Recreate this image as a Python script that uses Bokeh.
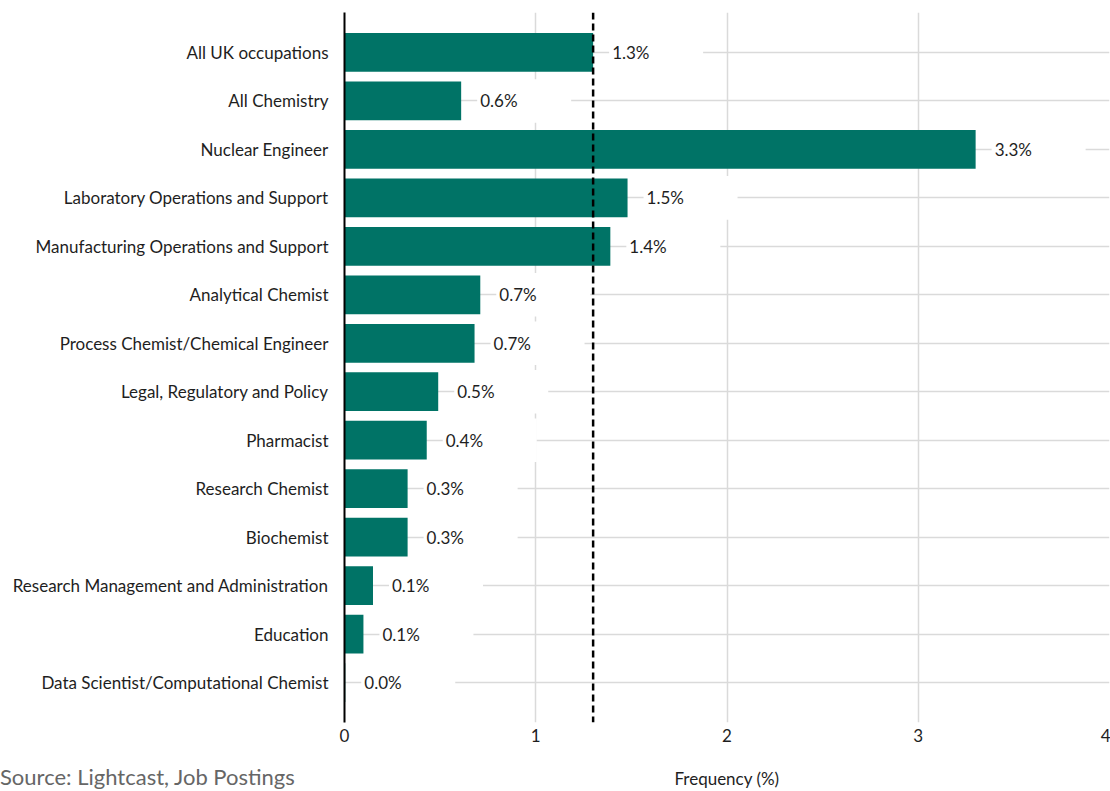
from bokeh.plotting import figure
from bokeh.layouts import column
from bokeh.models import Span, Div, FactorRange, Range1d, FixedTicker, ColumnDataSource
from bokeh.core.properties import value
from bokeh.embed import file_html
from bokeh.resources import INLINE

categories = [
    "All UK occupations",
    "All Chemistry",
    "Nuclear Engineer",
    "Laboratory Operations and Support",
    "Manufacturing Operations and Support",
    "Analytical Chemist",
    "Process Chemist/Chemical Engineer",
    "Legal, Regulatory and Policy",
    "Pharmacist",
    "Research Chemist",
    "Biochemist",
    "Research Management and Administration",
    "Education",
    "Data Scientist/Computational Chemist",
]
frequency = [1.30, 0.61, 3.30, 1.48, 1.39, 0.71, 0.68, 0.49, 0.43, 0.33, 0.33, 0.149, 0.099, 0.004]
benchmark = 1.30
x_ticks = [0, 1, 2, 3, 4]
source_note = "Source: Lightcast, Job Postings"
x_label = "Frequency (%)"

FONT = "Lato"
BAR = "#007366"
GRID = "#dadada"
TXT = "#1e1e1e"

px_per_unit = 765 / 4.0
src = ColumnDataSource(dict(
    cat=categories,
    val=frequency,
    lab=[f"{v:.1f}%" for v in frequency],
    box_l=[v + 16 / px_per_unit for v in frequency],
    box_r=[v + 110 / px_per_unit for v in frequency],
))

p = figure(width=1110, height=791, output_backend="svg", toolbar_location=None,
           y_range=FactorRange(factors=categories[::-1], range_padding=0.0464),
           x_range=Range1d(0, 4),
           min_border_left=344, min_border_right=1, min_border_top=12, min_border_bottom=69)
p.outline_line_color = None
p.background_fill_color = None
p.border_fill_color = None

p.xgrid.grid_line_color = GRID
p.xgrid.grid_line_width = 1.5
p.ygrid.grid_line_color = GRID
p.ygrid.grid_line_width = 1.5

# white label boxes that mask gridlines
p.hbar(y="cat", left="box_l", right="box_r", height=0.9, source=src,
       fill_color="white", line_color=None)
p.hbar(y="cat", left=0, right="val", height=0.8, source=src,
       fill_color=BAR, line_color=None)
p.text(x="val", y="cat", text="lab", source=src, x_offset=19,
       text_align="left", text_baseline="middle", text_font=value(FONT),
       text_font_size="17px", text_color=TXT)

p.add_layout(Span(location=benchmark, dimension="height", line_color="black",
                  line_width=2.5, line_dash="7 4"))

ya = p.yaxis[0]
ya.axis_line_color = "black"
ya.axis_line_width = 2
ya.major_tick_line_color = None
ya.minor_tick_line_color = None
ya.major_label_standoff = 10
ya.major_label_text_font = FONT
ya.major_label_text_font_size = "17px"
ya.major_label_text_color = TXT

xa = p.xaxis[0]
xa.ticker = FixedTicker(ticks=x_ticks)
xa.axis_line_color = None
xa.major_tick_line_color = None
xa.minor_tick_line_color = None
xa.major_label_standoff = 0
xa.major_label_text_font = FONT
xa.major_label_text_font_size = "17px"
xa.major_label_text_color = TXT
xa.axis_label = x_label
xa.axis_label_standoff = 23
xa.axis_label_text_font = FONT
xa.axis_label_text_font_size = "17px"
xa.axis_label_text_font_style = "normal"
xa.axis_label_text_color = TXT

note = Div(text=source_note, width=420, height=28, margin=(-28, 0, 0, 0),
           styles={"font-family": "Lato", "font-size": "22px", "color": "#666666",
                   "line-height": "28px", "position": "relative", "z-index": "5"})

layout = column(p, note, spacing=0)
open("out.html", "w").write(file_html(layout, INLINE))
